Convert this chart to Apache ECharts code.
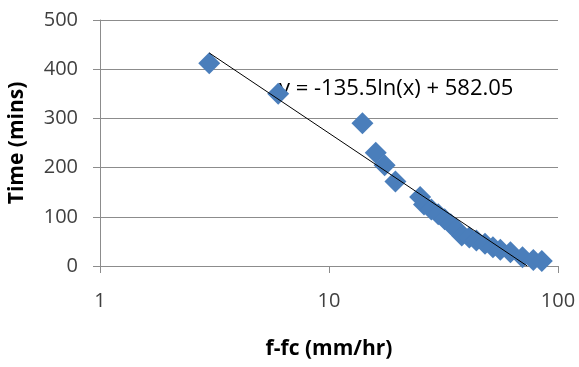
<!DOCTYPE html>
<html>
<head>
<meta charset="utf-8">
<script src="https://cdn.jsdelivr.net/npm/echarts@6/dist/echarts.min.js"></script>
<style>
    html, body { margin: 0; padding: 0; background: #fff; }
    #chart { width: 579px; height: 367px; }
</style>
</head>
<body>
<div id="chart"></div>
<script>
// f-fc (mm/hr) vs time (mins)
const rateValues = [3, 6, 14, 16, 17.5, 19.5, 25, 26, 28, 30, 32, 34, 36, 38, 41, 44, 48, 52, 56, 62, 70, 78, 85];
const timeValues = [412, 350, 290, 230, 205, 172, 140, 125, 115, 105, 95, 85, 75, 62, 58, 52, 45, 38, 33, 28, 18, 12, 10];

// log trendline end points (straight on a log axis)
const trendX = [3, 73.4];
const trendY = [433, 0];
const trendLabel = 'y = -135.5ln(x) + 582.05';

const xTicks = [1, 10, 100];
const yTicks = [0, 100, 200, 300, 400, 500];

const font = '"Open Sans", "Liberation Sans", sans-serif';
const gridGray = '#8c8c8c';

const chart = echarts.init(document.getElementById('chart'), undefined, { renderer: 'canvas' });

chart.setOption({
    animation: false,
    grid: { left: 100, right: 21, top: 20, bottom: 101, containLabel: false, outerBoundsMode: 'none' },
    xAxis: {
        type: 'log',
        logBase: 10,
        min: xTicks[0],
        max: xTicks[xTicks.length - 1],
        name: 'f-fc (mm/hr)',
        nameLocation: 'middle',
        nameGap: 73,
        nameTextStyle: { fontFamily: font, fontSize: 21, fontWeight: 'bold', color: '#000' },
        axisLine: { lineStyle: { color: gridGray } },
        axisTick: { show: true, length: 7, lineStyle: { color: gridGray } },
        axisLabel: { margin: 25, fontFamily: font, fontSize: 20, color: '#404040' },
        splitLine: { show: false },
        minorTick: { show: false }
    },
    yAxis: {
        type: 'value',
        min: yTicks[0],
        max: yTicks[yTicks.length - 1],
        interval: 100,
        name: 'Time (mins)',
        nameLocation: 'middle',
        nameGap: 72,
        nameTextStyle: { fontFamily: font, fontSize: 21, fontWeight: 'bold', color: '#000' },
        axisLine: { show: true, lineStyle: { color: gridGray } },
        axisTick: { show: true, length: 7, lineStyle: { color: gridGray } },
        axisLabel: { margin: 22, fontFamily: font, fontSize: 20, color: '#404040' },
        splitLine: { lineStyle: { color: gridGray, width: 1 } }
    },
    graphic: [
        {
            type: 'text',
            left: 279,
            top: 78,
            style: { text: trendLabel, fontFamily: font, fontSize: 22, fill: '#000' }
        }
    ],
    series: [
        {
            type: 'scatter',
            symbol: 'diamond',
            symbolSize: 22,
            itemStyle: { color: '#4a7ebb', opacity: 1 },
            data: rateValues.map((x, i) => [x, timeValues[i]]),
            z: 2
        },
        {
            type: 'line',
            showSymbol: false,
            lineStyle: { color: '#000', width: 1 },
            data: trendX.map((x, i) => [x, trendY[i]]),
            z: 3
        }
    ]
});
</script>
</body>
</html>
